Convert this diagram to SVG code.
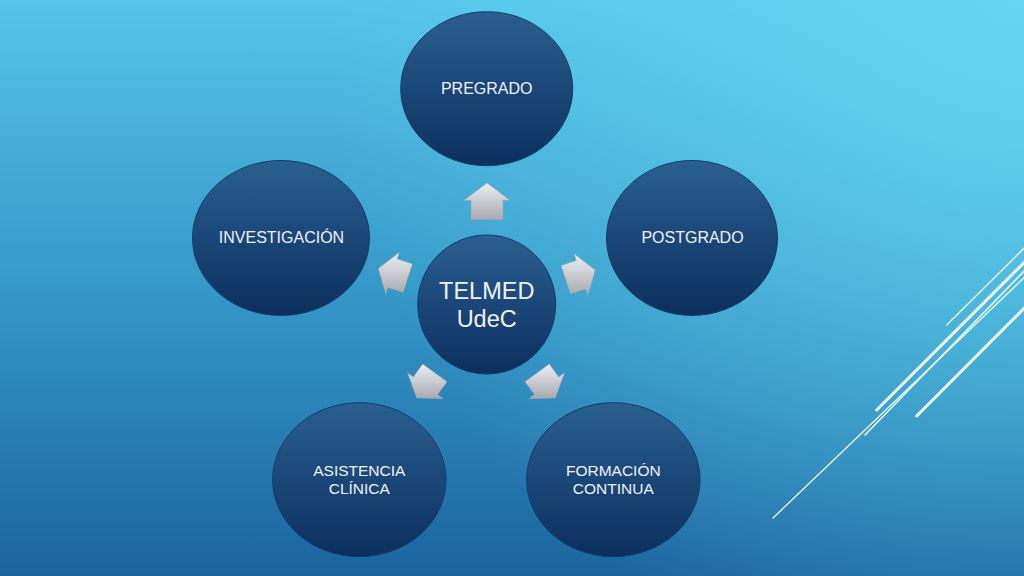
<svg xmlns="http://www.w3.org/2000/svg" width="1024" height="576" viewBox="0 0 1024 576">
  <defs>
    <linearGradient id="bg" x1="0" y1="0" x2="0" y2="1">
      <stop offset="0" stop-color="#55c5ea"/>
      <stop offset="0.5" stop-color="#3698c8"/>
      <stop offset="1" stop-color="#1a649e"/>
    </linearGradient>
    <radialGradient id="glow" cx="1024" cy="0" r="700" gradientUnits="userSpaceOnUse">
      <stop offset="0" stop-color="#66d8f2" stop-opacity="0.9"/>
      <stop offset="1" stop-color="#66d8f2" stop-opacity="0"/>
    </radialGradient>
    <linearGradient id="node" x1="0" y1="0" x2="0" y2="1">
      <stop offset="0" stop-color="#2a5f90"/>
      <stop offset="1" stop-color="#0b2f5e"/>
    </linearGradient>
    <linearGradient id="arrow" x1="0" y1="0" x2="0" y2="1">
      <stop offset="0" stop-color="#eeeff3"/>
      <stop offset="1" stop-color="#a7a9b0"/>
    </linearGradient>
    <style>
      .node ellipse { fill: url(#node); stroke: #123d6a; stroke-width: 1; }
      .lbl { font-family: "Liberation Sans", Arial, sans-serif; font-size: 16px; fill: #eef3f8; text-anchor: middle; }
      .two { font-size: 15.5px; }
      .big { font-size: 23.5px; }
      .arr { fill: url(#arrow); stroke: #9fa3aa; stroke-width: 0.5; }
      .deco line { stroke: #eaf7fc; stroke-linecap: round; }
    </style>
  </defs>

  <rect width="1024" height="576" fill="url(#bg)"/>
  <rect width="1024" height="576" fill="url(#glow)"/>

  <g class="deco">
    <line x1="946.7" y1="325" x2="1030" y2="242.3" stroke-width="1.3"/>
    <line x1="876.7" y1="410" x2="1030" y2="256.7" stroke-width="3"/>
    <line x1="865" y1="435" x2="1030" y2="265" stroke-width="1.5"/>
    <line x1="773" y1="518" x2="1030" y2="272" stroke-width="1.3"/>
    <line x1="916.7" y1="416" x2="1030" y2="302.3" stroke-width="3"/>
  </g>

  <g id="connectors">
    <polygon class="arr" points="487,183 510,200.3 503,200.3 503,219.7 471,219.7 471,200.3 464,200.3"/>
    <polygon class="arr" points="595.2,270.1 587.8,295.6 585.6,289 570.4,293.9 561.1,265.4 576.3,260.4 574.2,253.8"/>
    <polygon class="arr" points="378.3,268.6 399.4,252.3 397.2,258.9 412.4,263.9 403.1,292.4 387.9,287.5 385.8,294.1"/>
    <polygon class="arr" points="555.4,397.9 528.8,398.8 534.5,394.6 525,381.7 549.3,364 558.7,377 564.4,372.9"/>
    <polygon class="arr" points="416.6,397.9 443.2,398.8 437.6,394.6 447,381.7 422.7,364 413.3,377 407.6,372.9"/>
  </g>

  <g id="pregrado" class="node">
    <ellipse cx="486.7" cy="88.7" rx="86" ry="77"/>
    <text class="lbl" x="486.7" y="94.3">PREGRADO</text>
  </g>
  <g id="investigacion" class="node">
    <ellipse cx="281" cy="238" rx="88.5" ry="77.5"/>
    <text class="lbl" x="281.5" y="243">INVESTIGACIÓN</text>
  </g>
  <g id="postgrado" class="node">
    <ellipse cx="692" cy="238" rx="85.5" ry="77.5"/>
    <text class="lbl" x="692.5" y="243">POSTGRADO</text>
  </g>
  <g id="asistencia" class="node">
    <ellipse cx="359.3" cy="479.7" rx="86.7" ry="77"/>
    <text class="lbl two" x="359.3" y="476">ASISTENCIA</text>
    <text class="lbl two" x="359.3" y="494.3">CLÍNICA</text>
  </g>
  <g id="formacion" class="node">
    <ellipse cx="613.3" cy="479.7" rx="86.7" ry="77"/>
    <text class="lbl two" x="613.3" y="476">FORMACIÓN</text>
    <text class="lbl two" x="613.3" y="494.3">CONTINUA</text>
  </g>
  <g id="telmed" class="node">
    <ellipse cx="486.7" cy="304.5" rx="69" ry="69.5"/>
    <text class="lbl big" x="486.7" y="299.3">TELMED</text>
    <text class="lbl big" x="486.7" y="326.7">UdeC</text>
  </g>
</svg>
